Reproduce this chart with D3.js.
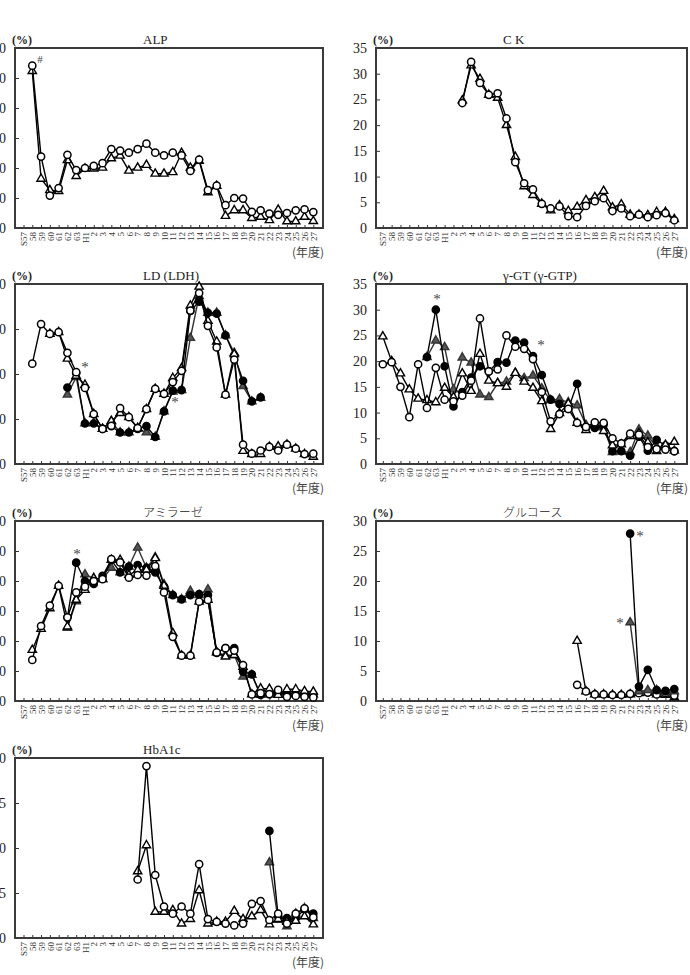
<!DOCTYPE html>
<html>
<head>
<meta charset="utf-8">
<script src="https://cdn.jsdelivr.net/npm/d3@7/dist/d3.min.js"></script>
<style>
  body { margin: 0; background: #fff; }
  svg text { font-family: "Liberation Serif", "DejaVu Serif", serif; fill: #222; }
</style>
</head>
<body>
<svg id="chart" width="690" height="975"></svg>
<script>
// fiscal years, Showa 57 .. Heisei 27
var categories = ["S57","58","59","60","61","62","63","H1","2","3","4","5","6","7","8","9","10",
  "11","12","13","14","15","16","17","18","19","20","21","22","23","24","25","26","27"];

// ALP
var alpCircle = [54.1,23.8,10.8,13.3,24.4,19.3,20.0,20.7,21.6,26.3,25.8,25.1,26.3,28.1,25.1,24.2,25.1,
  24.2,19.0,22.8,12.6,14.1,7.6,10.0,9.8,5.4,5.9,4.8,4.4,5.0,5.9,6.2,5.3];
var alpTri = [52.3,16.4,12.6,12.3,22.6,17.3,19.8,19.8,20.1,23.2,24.1,19.1,20.1,21.0,18.1,18.1,18.6,
  25.0,20.1,22.4,11.9,14.0,4.0,5.9,5.9,3.3,3.7,2.6,6.1,2.2,2.2,3.7,2.3];

// CK
var ckCircle = [24.3,32.3,28.2,25.9,26.2,21.3,12.8,8.7,7.5,4.7,3.8,4.2,2.3,2.1,4.3,5.2,5.8,3.3,3.8,
  2.3,2.6,2.1,2.5,2.9,1.5];
var ckTri = [24.8,31.6,29.0,25.9,25.3,20.0,13.8,8.1,6.4,4.7,3.4,4.4,3.3,4.1,5.4,6.0,7.2,4.0,4.6,
  2.6,2.6,2.5,3.1,3.1,1.7];

// LD (LDH)
var ldCircle = [22.3,31.1,28.9,29.3,24.7,20.4,16.9,11.1,7.8,8.5,12.4,10.4,8.0,12.2,16.7,15.6,18.2,
  20.7,34.1,38.0,30.7,25.9,15.4,23.2,4.3,2.3,3.0,3.8,3.0,4.3,3.4,2.2,2.3];
var ldTri = [28.9,29.3,23.4,19.6,17.6,11.1,7.8,9.5,11.3,10.4,8.0,12.2,16.7,15.6,19.1,21.3,35.2,
  39.4,31.8,27.2,15.4,24.4,2.9,2.2,2.2,3.8,3.9,4.3,3.4,2.2,1.6];
var ldDot = [17.0,20.2,9.0,9.0,7.8,8.4,7.0,7.0,7.8,8.4,6.0,11.7,16.3,16.4,34.0,36.1,33.6,33.4,
  28.6,24.1,18.5,13.9,14.8];
var ldTriFill = [15.4,19.3,9.0,9.1,7.8,9.5,7.0,7.0,7.8,7.0,6.0,11.7,16.1,16.4,28.0,37.3,33.6,33.6,
  28.6,24.7,17.3,13.9,14.7];

// gamma-GT
var ggtCircle = [19.4,19.8,15.0,9.1,19.4,10.9,18.7,12.5,12.2,13.3,16.2,28.3,18.0,18.4,25.0,22.8,
  22.4,20.4,14.0,8.3,9.7,10.7,8.0,7.2,8.1,8.0,5.0,4.0,5.9,5.7,3.3,2.9,2.8,2.5];
var ggtTri = [24.8,20.0,17.6,14.5,12.7,12.4,12.0,14.8,13.0,17.6,14.2,21.4,16.2,15.7,15.0,17.7,16.0,
  14.8,12.2,6.8,9.9,11.7,8.0,6.6,7.8,6.4,3.6,3.8,5.4,6.0,4.2,2.5,3.7,4.3];
var ggtDot = [20.8,30.0,19.0,11.2,14.0,16.8,19.0,18.0,19.8,19.7,24.0,23.6,21.0,17.3,12.5,11.7,
  10.7,15.6,7.1,7.0,7.7,2.5,2.5,1.6,5.3,2.6,4.7,3.6,2.5];
var ggtTriFill = [20.8,24.0,22.7,14.5,20.7,19.7,13.5,13.0,15.7,16.0,17.7,16.7,17.2,14.7,12.4,12.6,
  12.0,11.4,7.6,7.6,7.1,2.3,2.4,2.3,6.7,5.5,3.3,3.5,2.6];

// amylase
var amyCircle = [13.7,25.0,31.8,38.4,27.9,36.2,38.1,40.0,40.6,47.3,46.2,41.1,42.0,41.8,45.0,36.2,
  21.4,15.1,15.1,33.1,33.7,16.2,17.6,16.8,12.0,2.2,2.6,2.3,3.7,1.4,1.7,1.4,1.2];
var amyTri = [17.0,24.0,30.9,38.4,24.8,33.7,37.0,40.9,40.6,47.0,47.0,42.0,43.7,43.7,47.6,38.4,
  22.6,15.1,15.1,33.1,33.7,16.2,14.8,15.3,11.4,2.2,4.2,4.0,2.0,3.9,3.9,3.3,3.1];
var amyDot = [27.9,46.1,40.0,39.0,41.7,47.0,42.9,44.8,45.3,44.4,42.9,38.1,35.3,33.9,35.3,35.6,
  35.3,16.0,17.6,17.6,9.8,8.9,2.0,2.3,2.6,2.6,2.2,2.2,2.2];
var amyTriFill = [24.4,33.2,42.2,40.9,40.6,44.4,42.9,44.8,51.1,44.4,47.9,38.9,35.3,33.9,36.7,35.3,
  37.2,16.2,15.3,15.3,8.1,8.7,2.0,2.2,2.0,2.6,2.2,2.2,2.2];

// glucose
var gluCircle = [2.7,1.6,1.1,1.1,1.0,1.0,1.2,1.3,1.4,1.1,1.3,0.9];
var gluTri = [10.0,1.6,1.1,1.1,1.0,1.0,1.1,1.3,1.4,1.1,1.0,0.6];
var gluDot = [27.9,2.4,5.2,1.8,1.7,2.0];
var gluTriFill = [13.1,1.6,1.8,1.8,1.4,1.6];

// HbA1c
var hbCircle = [6.5,19.1,7.0,3.5,2.7,3.5,2.7,8.2,2.1,1.8,1.6,1.4,1.6,3.8,4.1,2.0,2.7,1.6,2.7,3.3,2.3];
var hbTri = [7.4,10.3,2.9,2.9,3.1,1.6,2.1,5.3,1.6,1.8,1.8,3.0,2.1,2.4,3.1,1.5,2.1,1.8,1.9,2.4,1.5];
var hbDot = [11.9,2.4,2.2,2.2,3.2,2.7];
var hbTriFill = [8.4,2.0,1.3,2.7,3.3,2.2];

// series = [marker, first year, values]
var charts = [
  {title: "ALP", col: 0, row: 0, yMax: 60, step: 10,
   series: [["tri", "58", alpTri], ["circle", "58", alpCircle]],
   notes: [["#", 40, 63]]},
  {title: "C K", col: 1, row: 0, yMax: 35, step: 5,
   series: [["tri", "3", ckTri], ["circle", "3", ckCircle]], notes: []},
  {title: "LD (LDH)", col: 0, row: 1, yMax: 40, step: 10,
   series: [["trifill", "62", ldTriFill], ["dot", "62", ldDot], ["tri", "60", ldTri], ["circle", "58", ldCircle]],
   notes: [["*", 85, 372], ["*", 175, 407]]},
  {title: "γ-GT (γ-GTP)", col: 1, row: 1, yMax: 35, step: 5,
   series: [["trifill", "62", ggtTriFill], ["dot", "62", ggtDot], ["tri", "S57", ggtTri], ["circle", "S57", ggtCircle]],
   notes: [["*", 437, 304], ["*", 541, 350]]},
  {title: "アミラーゼ", col: 0, row: 2, yMax: 60, step: 10,
   series: [["trifill", "62", amyTriFill], ["dot", "62", amyDot], ["tri", "58", amyTri], ["circle", "58", amyCircle]],
   notes: [["*", 77, 559]]},
  {title: "グルコース", col: 1, row: 2, yMax: 30, step: 5,
   series: [["tri", "16", gluTri], ["circle", "16", gluCircle], ["trifill", "22", gluTriFill], ["dot", "22", gluDot]],
   notes: [["*", 640, 541], ["*", 620, 628]]},
  {title: "HbA1c", col: 0, row: 3, yMax: 20, step: 5,
   series: [["trifill", "22", hbTriFill], ["dot", "22", hbDot], ["tri", "7", hbTri], ["circle", "7", hbCircle]],
   notes: []}
];

var svg = d3.select("#chart");

var frameX = [[15, 323], [376, 687]];
var pointX = [[23.5, 313.3], [382.8, 674.3]];
var rowTop = [48, 284, 521, 758];
var plotH = 180;

function toPoints(start, values) {
  var i0 = categories.indexOf(start);
  return values.map(function(v, k) { return {cat: categories[i0 + k], v: v}; });
}

charts.forEach(function(c) {
  var x0 = frameX[c.col][0], x1 = frameX[c.col][1];
  var top = rowTop[c.row], bottom = top + plotH;
  var g = svg.append("g");

  var x = d3.scalePoint().domain(categories).range(pointX[c.col]);
  var y = d3.scaleLinear().domain([0, c.yMax]).range([bottom, top]);

  // y axis (ticks pointing inward); left column labels run off the page edge as in the source
  var yAxis = d3.axisLeft(y).tickValues(d3.range(0, c.yMax + 0.1, c.step))
    .tickSizeInner(-4).tickSizeOuter(0).tickPadding(9);
  var ya = g.append("g").attr("transform", "translate(" + x0 + ",0)").call(yAxis);
  ya.select(".domain").remove();
  ya.selectAll("line").attr("stroke", "#333");
  ya.selectAll("text").style("font-size", "14px");

  // x axis
  var xAxis = d3.axisBottom(x).tickSizeInner(-3).tickSizeOuter(0).tickPadding(4);
  var xa = g.append("g").attr("transform", "translate(0," + bottom + ")").call(xAxis);
  xa.select(".domain").remove();
  xa.selectAll("line").attr("stroke", "#333");
  xa.selectAll("text")
    .attr("transform", "rotate(-90)")
    .attr("x", -4).attr("y", 0).attr("dy", "0.35em")
    .style("text-anchor", "end")
    .style("font-size", "9px").style("fill", "#333");

  // frame
  g.append("rect").attr("x", x0).attr("y", top).attr("width", x1 - x0).attr("height", plotH)
    .attr("fill", "none").attr("stroke", "#3a3a3a").attr("stroke-width", 2);

  // titles
  g.append("text").attr("x", x0 - 3).attr("y", top - 4).text("(%)")
    .style("font-size", "12px").style("font-weight", "bold");
  var jp = /[\u3040-\u30ff]/.test(c.title);
  g.append("text").attr("x", c.col === 0 ? 143 : 503).attr("y", top - 4).text(c.title)
    .style("font-size", jp ? "12px" : "13px")
    .style("font-family", jp ? "'Noto Sans CJK JP', serif" : null)
    .style("font-weight", jp ? "300" : null);
  g.append("text").attr("x", x1 + 1).attr("y", bottom + 29).attr("text-anchor", "end")
    .text("(年度)").style("font-size", "12px").style("font-family", "'Noto Sans CJK JP', serif")
    .style("fill", "#444");

  var line = d3.line().x(function(d) { return x(d.cat); }).y(function(d) { return y(d.v); });
  var tri = d3.symbol().type(d3.symbolTriangle).size(30);

  c.series.forEach(function(s) {
    var kind = s[0], pts = toPoints(s[1], s[2]);
    g.append("path").datum(pts).attr("d", line).attr("fill", "none")
      .attr("stroke", kind === "trifill" ? "#333" : "#000").attr("stroke-width", 1.4);
    var m = g.append("g").selectAll("m").data(pts).enter();
    if (kind === "circle" || kind === "dot") {
      m.append("circle").attr("cx", function(d) { return x(d.cat); }).attr("cy", function(d) { return y(d.v); })
        .attr("r", 3.6).attr("fill", kind === "dot" ? "#000" : "#fff")
        .attr("stroke", "#000").attr("stroke-width", 1.5);
    } else {
      m.append("path").attr("d", tri)
        .attr("transform", function(d) { return "translate(" + x(d.cat) + "," + y(d.v) + ")"; })
        .attr("fill", kind === "trifill" ? "#555" : "#fff")
        .attr("stroke", kind === "trifill" ? "#333" : "#000").attr("stroke-width", 1.4);
    }
  });

  c.notes.forEach(function(n) {
    g.append("text").attr("x", n[1]).attr("y", n[2]).text(n[0])
      .attr("text-anchor", "middle").style("font-size", n[0] === "#" ? "11px" : "15px")
      .style("fill", "#444");
  });
});
</script>
</body>
</html>
